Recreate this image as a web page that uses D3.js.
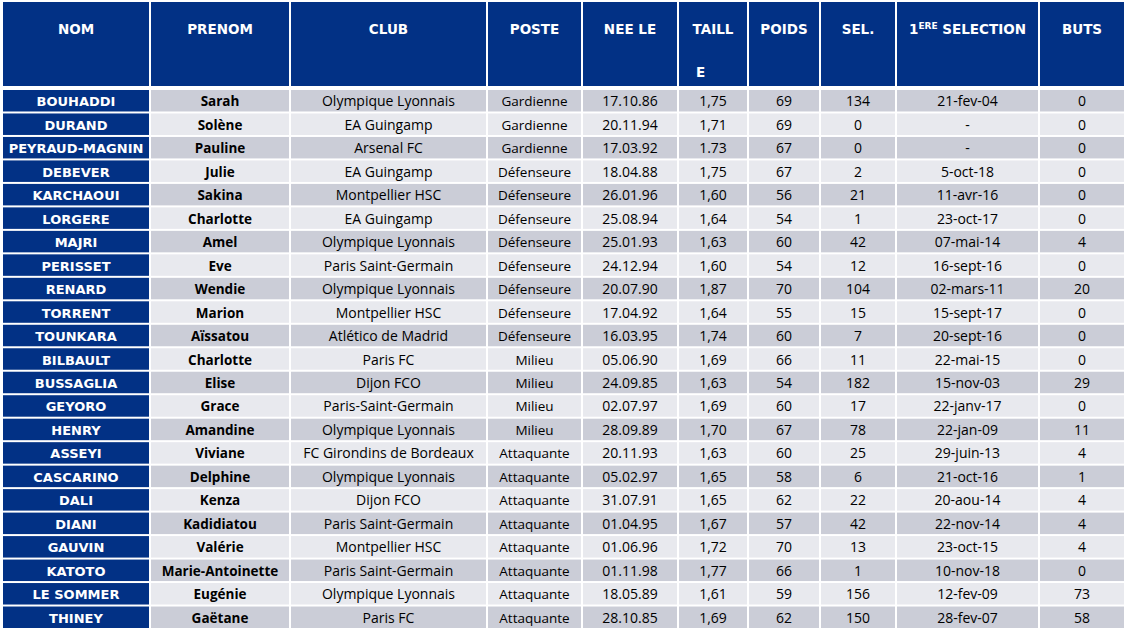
<!DOCTYPE html>
<html><head><meta charset="utf-8">
<script src="https://cdn.jsdelivr.net/npm/d3@7"></script>
<style>body{margin:0;background:#fff}</style></head>
<body><svg id="t" width="1127" height="630"></svg>
<script>
const headers = ["NOM","PRENOM","CLUB","POSTE","NEE LE","TAILLE","POIDS","SEL.","1ERE SELECTION","BUTS"];
const noms = ["BOUHADDI","DURAND","PEYRAUD-MAGNIN","DEBEVER","KARCHAOUI","LORGERE","MAJRI","PERISSET","RENARD","TORRENT","TOUNKARA","BILBAULT","BUSSAGLIA","GEYORO","HENRY","ASSEYI","CASCARINO","DALI","DIANI","GAUVIN","KATOTO","LE SOMMER","THINEY"];
const prenoms = ["Sarah","Solène","Pauline","Julie","Sakina","Charlotte","Amel","Eve","Wendie","Marion","Aïssatou","Charlotte","Elise","Grace","Amandine","Viviane","Delphine","Kenza","Kadidiatou","Valérie","Marie-Antoinette","Eugénie","Gaëtane"];
const clubs = ["Olympique Lyonnais","EA Guingamp","Arsenal FC","EA Guingamp","Montpellier HSC","EA Guingamp","Olympique Lyonnais","Paris Saint-Germain","Olympique Lyonnais","Montpellier HSC","Atlético de Madrid","Paris FC","Dijon FCO","Paris-Saint-Germain","Olympique Lyonnais","FC Girondins de Bordeaux","Olympique Lyonnais","Dijon FCO","Paris Saint-Germain","Montpellier HSC","Paris Saint-Germain","Olympique Lyonnais","Paris FC"];
const postes = ["Gardienne","Gardienne","Gardienne","Défenseure","Défenseure","Défenseure","Défenseure","Défenseure","Défenseure","Défenseure","Défenseure","Milieu","Milieu","Milieu","Milieu","Attaquante","Attaquante","Attaquante","Attaquante","Attaquante","Attaquante","Attaquante","Attaquante"];
const naissances = ["17.10.86","20.11.94","17.03.92","18.04.88","26.01.96","25.08.94","25.01.93","24.12.94","20.07.90","17.04.92","16.03.95","05.06.90","24.09.85","02.07.97","28.09.89","20.11.93","05.02.97","31.07.91","01.04.95","01.06.96","01.11.98","18.05.89","28.10.85"];
const tailles = ["1,75","1,71","1.73","1,75","1,60","1,64","1,63","1,60","1,87","1,64","1,74","1,69","1,63","1,69","1,70","1,63","1,65","1,65","1,67","1,72","1,77","1,61","1,69"];
const poids = [69,69,67,67,56,54,60,54,70,55,60,66,54,60,67,60,58,62,57,70,66,59,62];
const selections = [134,0,0,2,21,1,42,12,104,15,7,11,182,17,78,25,6,22,42,13,1,156,150];
const premieres = ["21-fev-04","-","-","5-oct-18","11-avr-16","23-oct-17","07-mai-14","16-sept-16","02-mars-11","15-sept-17","20-sept-16","22-mai-15","15-nov-03","22-janv-17","22-jan-09","29-juin-13","21-oct-16","20-aou-14","22-nov-14","23-oct-15","10-nov-18","12-fev-09","28-fev-07"];
const buts = [0,0,0,0,0,0,4,0,20,0,0,0,29,0,11,4,1,4,4,4,0,73,58];

const colEdges = [2,150,290,487,582,678,748,820,896,1039,1125];
const columns = [noms,prenoms,clubs,postes,naissances,tailles,poids,selections,premieres,buts];
const svg = d3.select("#t");
const y = d3.scaleBand().domain(d3.range(noms.length)).range([89,629]);
const blue = "#023185";

// header
headers.forEach((h,c) => {
  const x0 = colEdges[c]+1, x1 = colEdges[c+1]-1;
  svg.append("rect").attr("x",x0).attr("y",2).attr("width",x1-x0).attr("height",84).attr("fill",blue);
  const t = svg.append("text").attr("x",(x0+x1)/2).attr("y",34).attr("text-anchor","middle")
    .attr("fill","#fff").attr("font-family","DejaVu Sans").attr("font-weight","bold").attr("font-size",13.5);
  if (h === "TAILLE") {
    t.text("TAILL");
    svg.append("text").attr("x",(x0+x1)/2 - 17).attr("y",77).attr("fill","#fff")
      .attr("font-family","DejaVu Sans").attr("font-weight","bold").attr("font-size",13.5).text("E");
  } else if (h === "1ERE SELECTION") {
    t.append("tspan").text("1");
    t.append("tspan").attr("font-size",9).attr("dy",-5).text("ERE");
    t.append("tspan").attr("dy",5).text(" SELECTION");
  } else t.text(h);
});

// body
noms.forEach((n,i) => {
  columns.forEach((col,c) => {
    const x0 = colEdges[c]+1, x1 = colEdges[c+1]-1;
    const fill = c===0 ? blue : (i%2===0 ? "#cbcdd7" : "#e8e9ee");
    svg.append("rect").attr("x",x0).attr("y",y(i)+1).attr("width",x1-x0).attr("height",y.bandwidth()-2).attr("fill",fill);
    svg.append("text").attr("x",(x0+x1)/2).attr("y",y(i)+y.bandwidth()/2+5.5).attr("text-anchor","middle")
      .attr("fill", c===0 ? "#fff" : "#000")
      .attr("font-family", c===0 ? "DejaVu Sans" : "Open Sans")
      .attr("font-weight", c<2 ? "bold" : "normal")
      .attr("font-size", c===0 ? 13 : (c===3||c===1 ? 13.5 : 14))
      .text(col[i]);
  });
});
</script></body></html>
